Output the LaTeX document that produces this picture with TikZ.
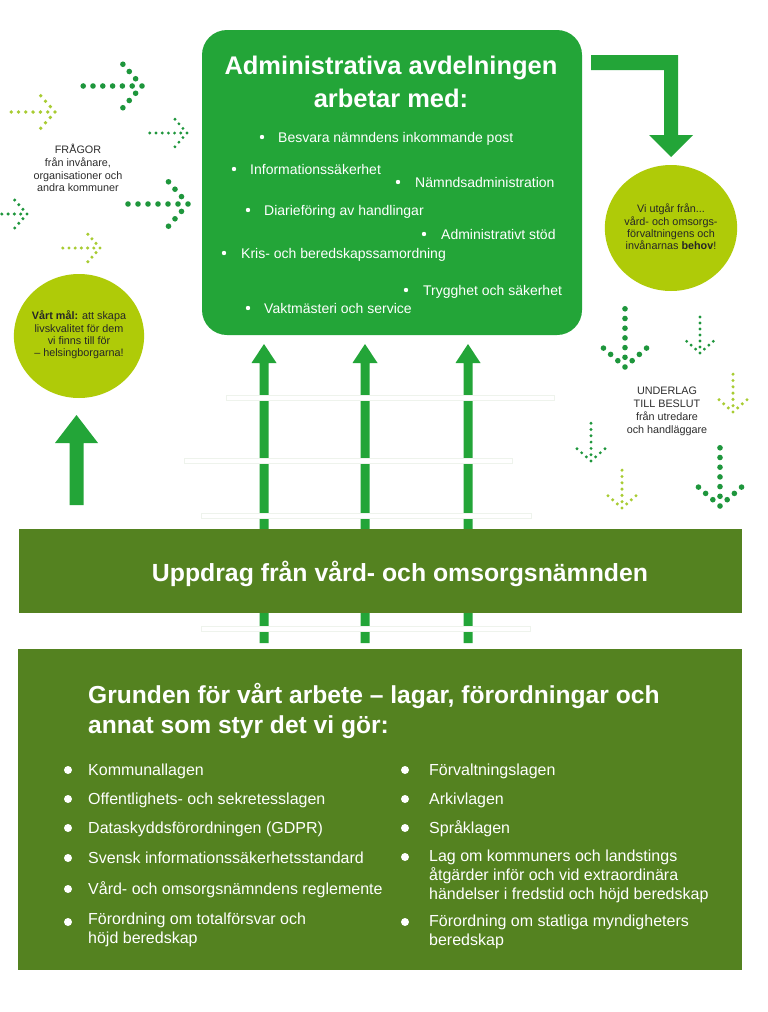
\documentclass[tikz,border=0pt]{standalone}
\usepackage{fontspec}
\setmainfont{Liberation Sans}
\definecolor{boxgreen}{RGB}{35,165,56}
\definecolor{bandolive}{RGB}{84,130,32}
\definecolor{limecirc}{RGB}{175,203,8}
\definecolor{dotdark}{RGB}{30,150,60}
\definecolor{dotlight}{RGB}{168,204,50}
\definecolor{txtgray}{RGB}{45,45,45}
\definecolor{gapline}{RGB}{238,243,236}
\newcommand{\dotarr}[6]{%
  \begin{scope}[shift={(#1,#2)},rotate=#3]
    \foreach \dd in {0,...,6} \fill[#6] (-\dd*#4,0) circle (#5);
    \foreach \dd in {1,2,3} {
      \fill[#6] (-0.65*\dd*#4, 0.74*\dd*#4) circle (#5);
      \fill[#6] (-0.65*\dd*#4,-0.74*\dd*#4) circle (#5);
    }
  \end{scope}}
\tikzset{
  wtxt/.style={text=white, inner sep=0pt, yshift=-3pt, font=\fontsize{14}{16}\selectfont},
  ltxt/.style={text=white, inner sep=0pt, yshift=-2.5pt, font=\fontsize{16}{19}\selectfont},
  gtxt/.style={text=txtgray, inner sep=0pt, align=center, font=\fontsize{10.8}{12.8}\selectfont},
  ctxt/.style={text=black!85, inner sep=0pt, align=center, font=\fontsize{10.8}{12.4}\selectfont},
  gapbar/.style={fill=white, draw=gapline, line width=0.6pt},
}
\begin{document}
\begin{tikzpicture}[x=1pt,y=-1pt]
\useasboundingbox (0,0) rectangle (768,1012);
\fill[white] (0,0) rectangle (768,1012);

% ---- dotted arrows left (pointing right)
\dotarr{142}{86}{0}{9.8}{2.8}{dotdark}
\dotarr{55}{112}{0}{7.3}{1.9}{dotlight}
\dotarr{187}{133}{0}{6.2}{1.6}{dotdark}
\dotarr{188}{204}{0}{10}{2.8}{dotdark}
\dotarr{27}{214}{0}{6.3}{1.7}{dotdark}
\dotarr{100}{248}{0}{6.2}{1.7}{dotlight}
% ---- dotted arrows right (pointing down)
\dotarr{625}{367}{-90}{9.7}{2.8}{dotdark}
\dotarr{700}{353}{-90}{6}{1.6}{dotdark}
\dotarr{733}{412}{-90}{6.3}{1.7}{dotlight}
\dotarr{591}{461}{-90}{6.3}{1.6}{dotdark}
\dotarr{622}{508}{-90}{6.3}{1.7}{dotlight}
\dotarr{720}{506}{-90}{9.7}{2.8}{dotdark}

% ---- side texts
\node[gtxt] (fragor) at (78,168) {FRÅGOR\\från invånare,\\organisationer och\\andra kommuner};
\node[gtxt] (underlag) at (667,411.5) {UNDERLAG\\TILL BESLUT\\från utredare\\och handläggare};

% ---- circles
\node[fill=limecirc, circle, minimum size=124pt, inner sep=0, xscale=1.05] (goal) at (79,336) {};
\node[ctxt] (goaltxt) at (79,335) {\textbf{Vårt mål:} att skapa\\livskvalitet för dem\\vi finns till för\\– helsingborgarna!};
\node[fill=limecirc, circle, minimum size=126pt, inner sep=0, xscale=1.05] (need) at (671,228) {};
\node[ctxt] (needtxt) at (671,227) {Vi utgår från...\\vård- och omsorgs-\\förvaltningens och\\invånarnas \textbf{behov}!};

% ---- left big up arrow
\fill[boxgreen] (69.5,505) -- (69.5,443) -- (55,443) -- (76.5,415) -- (98,443) -- (83.5,443) -- (83.5,505) -- cycle;

% ---- bent arrow top right
\fill[boxgreen] (591,55) -- (678,55) -- (678,135) -- (693,135) -- (671,157) -- (649,135) -- (664,135) -- (664,70) -- (591,70) -- cycle;

% ---- admin box
\node[fill=boxgreen, rounded corners=25pt, minimum width=380pt, minimum height=305pt, inner sep=0] (admin) at (392,182.5) {};
\node[text=white, inner sep=0, anchor=base, font=\bfseries\fontsize{25.5}{30}\selectfont] (title1) at (391,74) {Administrativa avdelningen};
\node[text=white, inner sep=0, anchor=base, font=\bfseries\fontsize{25.5}{30}\selectfont] (title2) at (391,107) {arbetar med:};

\foreach \bx/\tx/\ty/\nm/\txt in {
  262/278/137/a1/{Besvara nämndens inkommande post},
  234/250/169/a2/{Informationssäkerhet},
  398/415/182/a3/{Nämndsadministration},
  248/264/210/a4/{Diarieföring av handlingar},
  424/441/234/a5/{Administrativt stöd},
  224/241/253/a6/{Kris- och beredskapssamordning},
  406/423/290/a7/{Trygghet och säkerhet},
  248/264/308/a8/{Vaktmästeri och service}} {
  \fill[white] (\bx,\ty) circle (2.2);
  \node[wtxt, anchor=mid west] (\nm) at (\tx,\ty) {\txt};
}

% ---- three up arrows
\foreach \cx/\nm in {264/u1,365/u2,468/u3} {
  \fill[boxgreen] (\cx-4.5,643) -- (\cx-4.5,363) -- (\cx-12.5,363) -- (\cx,344) -- (\cx+12.5,363) -- (\cx+4.5,363) -- (\cx+4.5,643) -- cycle;
  \coordinate (\nm) at (\cx,344);
}
% faint gaps
\fill[gapbar] (226,395) rectangle (554,400);
\fill[gapbar] (184,458) rectangle (512,463);
\fill[gapbar] (201,513) rectangle (531,518);
\fill[gapbar] (201,626) rectangle (530,631);

% ---- band
\node[fill=bandolive, minimum width=723pt, minimum height=84pt, inner sep=0] (band) at (380.5,571) {};
\node[text=white, inner sep=0, anchor=base, font=\bfseries\fontsize{24.8}{28}\selectfont] (bandtxt) at (400,581) {Uppdrag från vård- och omsorgsnämnden};

% ---- bottom box
\node[fill=bandolive, minimum width=724pt, minimum height=321pt, inner sep=0] (base) at (380,809.5) {};
\node[text=white, inner sep=0, anchor=base west, font=\bfseries\fontsize{24.6}{28}\selectfont] (h1) at (88,703) {Grunden för vårt arbete – lagar, förordningar och};
\node[text=white, inner sep=0, anchor=base west, font=\bfseries\fontsize{24.6}{28}\selectfont] (h2) at (88,733) {annat som styr det vi gör:};

\foreach \bx/\by in {68/770,68/799,68/828,68/858,68/889,68/922,405/770,405/799,405/828,405/857,405/922}
  \fill[white] (\bx,\by) circle (4);

\node[ltxt, anchor=mid west] (l1) at (88,770) {Kommunallagen};
\node[ltxt, anchor=mid west] (l2) at (88,799) {Offentlighets- och sekretesslagen};
\node[ltxt, anchor=mid west] (l3) at (88,828) {Dataskyddsförordningen (GDPR)};
\node[ltxt, anchor=mid west] (l4) at (88,858) {Svensk informationssäkerhetsstandard};
\node[ltxt, anchor=mid west] (l5) at (88,889) {Vård- och omsorgsnämndens reglemente};
\node[ltxt, anchor=mid west] (l6a) at (88,919) {Förordning om totalförsvar och};
\node[ltxt, anchor=mid west] (l6b) at (88,938) {höjd beredskap};

\node[ltxt, anchor=mid west] (r1) at (429,770) {Förvaltningslagen};
\node[ltxt, anchor=mid west] (r2) at (429,799) {Arkivlagen};
\node[ltxt, anchor=mid west] (r3) at (429,828) {Språklagen};
\node[ltxt, anchor=mid west] (r4a) at (429,856) {Lag om kommuners och landstings};
\node[ltxt, anchor=mid west] (r4b) at (429,875) {åtgärder inför och vid extraordinära};
\node[ltxt, anchor=mid west] (r4c) at (429,894) {händelser i fredstid och höjd beredskap};
\node[ltxt, anchor=mid west] (r5a) at (429,921) {Förordning om statliga myndigheters};
\node[ltxt, anchor=mid west] (r5b) at (429,940) {beredskap};
\end{tikzpicture}
\end{document}
